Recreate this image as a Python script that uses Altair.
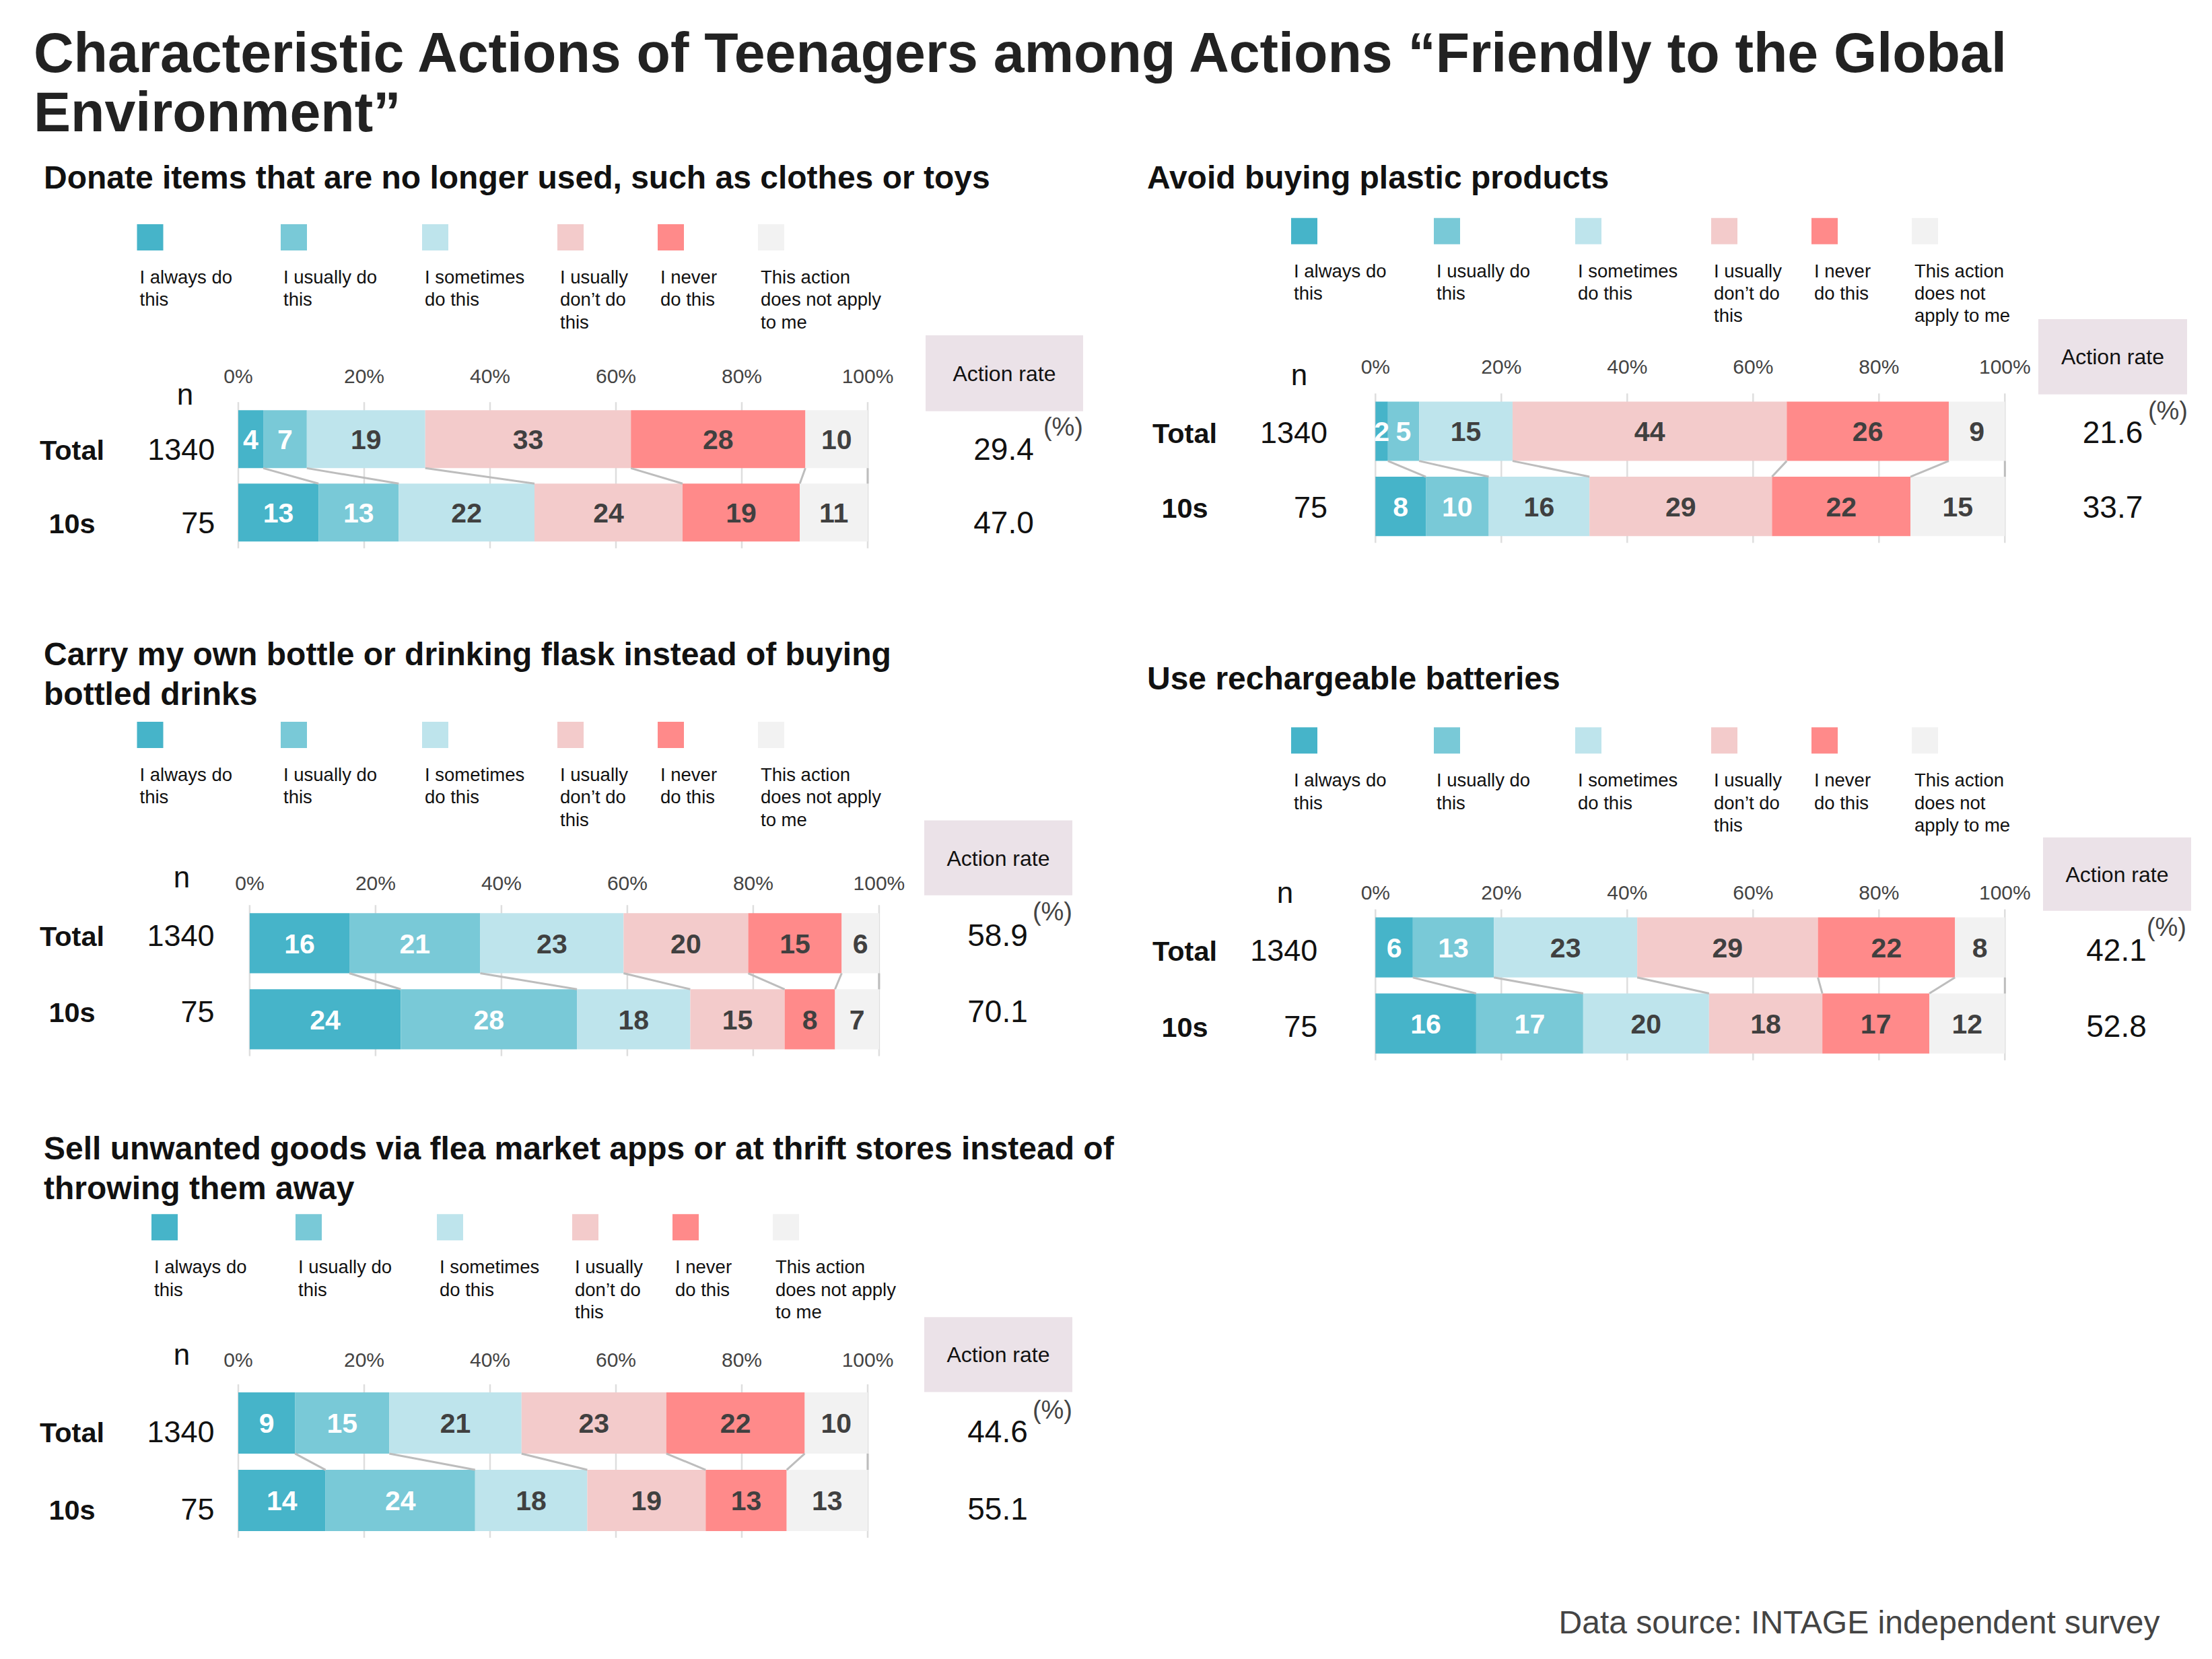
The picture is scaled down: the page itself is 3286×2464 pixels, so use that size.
import altair as alt
import pandas as pd

FONT = "Liberation Sans"

# ---------------- data ----------------
main_title = ["Characteristic Actions of Teenagers among Actions \u201cFriendly to the Global",
              "Environment\u201d"]
source_text = "Data source: INTAGE independent survey"

categories = ["I always do this", "I usually do this", "I sometimes do this",
              "I usually don\u2019t do this", "I never do this", "This action does not apply to me"]
colors = ["#46b4c9", "#79c9d7", "#bee4ec", "#f3cbcb", "#ff8a8a", "#f2f2f2"]

legend_lines_a = [["I always do", "this"], ["I usually do", "this"], ["I sometimes", "do this"],
                  ["I usually", "don\u2019t do", "this"], ["I never", "do this"],
                  ["This action", "does not apply", "to me"]]
legend_lines_b = [["I always do", "this"], ["I usually do", "this"], ["I sometimes", "do this"],
                  ["I usually", "don\u2019t do", "this"], ["I never", "do this"],
                  ["This action", "does not", "apply to me"]]

row_labels = ["Total", "10s"]
n_values = [1340, 75]
tick_values = [0, 20, 40, 60, 80, 100]
tick_labels = ["0%", "20%", "40%", "60%", "80%", "100%"]

panel_titles = [
    ["Donate items that are no longer used, such as clothes or toys"],
    ["Avoid buying plastic products"],
    ["Carry my own bottle or drinking flask instead of buying", "bottled drinks"],
    ["Use rechargeable batteries"],
    ["Sell unwanted goods via flea market apps or at thrift stores instead of", "throwing them away"],
]
total_values = [
    [4, 7, 19, 33, 28, 10],
    [2, 5, 15, 44, 26, 9],
    [16, 21, 23, 20, 15, 6],
    [6, 13, 23, 29, 22, 8],
    [9, 15, 21, 23, 22, 10],
]
teen_values = [
    [13, 13, 22, 24, 19, 11],
    [8, 10, 16, 29, 22, 15],
    [24, 28, 18, 15, 8, 7],
    [16, 17, 20, 18, 17, 12],
    [14, 24, 18, 19, 13, 13],
]
rate_total = [29.4, 21.6, 58.9, 42.1, 44.6]
rate_teen = [47.0, 33.7, 70.1, 52.8, 55.1]

# ---------------- layout (page pixels) ----------------
K = 9.35  # px per percent
LEFT_COL = (50, 1620)
RIGHT_COL = (1700, 3260)
SQ = 39

layouts = [
    dict(col=LEFT_COL, top=230, bottom=940, x0=354, yc=651.3, step=109, title_x=65, title_y=279.3,
         sq_top=332, sq_left=[203.5, 417, 627, 828, 977, 1126], legend=legend_lines_a,
         axis_y=568.3, n_x=275, n_y=600, box=(1375, 1609, 497, 609.7), lab_x=107, lab_dy=31,
         n_right=319.3, rate_x=1491, pct_right=1609, pct_y=646),
    dict(col=RIGHT_COL, top=230, bottom=940, x0=2043.3, yc=639.5, step=111.7, title_x=1704, title_y=279.3,
         sq_top=322.7, sq_left=[1918, 2130, 2340, 2542, 2691, 2840], legend=legend_lines_b,
         axis_y=554, n_x=1930, n_y=571, box=(3028, 3249, 473, 584.7), lab_x=1760, lab_dy=17,
         n_right=1972, rate_x=3138.5, pct_right=3250, pct_y=622),
    dict(col=LEFT_COL, top=940, bottom=1675, x0=370.9, yc=1399.9, step=113, title_x=65, title_y=987,
         sq_top=1071, sq_left=[203.5, 417, 627, 828, 977, 1126], legend=legend_lines_a,
         axis_y=1320.5, n_x=270, n_y=1317, box=(1373, 1593, 1217.6, 1328.7), lab_x=107, lab_dy=4,
         n_right=318.5, rate_x=1482, pct_right=1593, pct_y=1366),
    dict(col=RIGHT_COL, top=940, bottom=1675, x0=2043.3, yc=1406.2, step=113, title_x=1704, title_y=1023,
         sq_top=1079.3, sq_left=[1918, 2130, 2340, 2542, 2691, 2840], legend=legend_lines_b,
         axis_y=1335, n_x=1909, n_y=1340, box=(3035, 3255, 1242.8, 1351.7), lab_x=1760, lab_dy=20,
         n_right=1957.4, rate_x=3144, pct_right=3248, pct_y=1389),
    dict(col=LEFT_COL, top=1675, bottom=2330, x0=354, yc=2112.5, step=115, title_x=65, title_y=1721,
         sq_top=1802.3, sq_left=[225, 439, 649, 850, 999, 1148], legend=legend_lines_a,
         axis_y=2029, n_x=270, n_y=2025.5, box=(1373, 1593, 1955.3, 2066.4), lab_x=107, lab_dy=28,
         n_right=318.5, rate_x=1482, pct_right=1593, pct_y=2106),
]


def make_panel(i):
    L = layouts[i]
    x0, yc, S = L["x0"], L["yc"], L["step"]
    left, right = L["col"]

    def xd(px):
        return (px - x0) / K

    def yd(py):
        return (py - yc) / S

    W = right - left
    H = L["bottom"] - L["top"]
    xs = alt.Scale(domain=[xd(left), xd(right)], nice=False, zero=False)
    ys = alt.Scale(domain=[yd(L["top"]), yd(L["bottom"])], nice=False, zero=False, reverse=True)

    def X(f):
        return alt.X(f, type="quantitative", scale=xs, axis=None)

    def Y(f):
        return alt.Y(f, type="quantitative", scale=ys, axis=None)

    h = 0.395  # half bar height in rows
    color_scale = alt.Scale(domain=categories, range=colors)

    # bars
    seg = []
    ends = []
    for r, vals in enumerate([total_values[i], teen_values[i]]):
        s = float(sum(vals))
        c = 0.0
        row_end = []
        for j, v in enumerate(vals):
            a = c / s * 100
            c += v
            b = c / s * 100
            row_end.append(b)
            seg.append(dict(cat=categories[j], x=a, x2=b, xm=(a + b) / 2, y=r - h, y2=r + h,
                            ty=r + 14.8 / S, label=str(v),
                            tcol="#ffffff" if j < 2 else "#404040"))
        ends.append(row_end)
    seg_df = pd.DataFrame(seg)

    bars = alt.Chart(seg_df).mark_rect(strokeWidth=0).encode(
        x=X("x"), x2="x2", y=Y("y"), y2="y2",
        color=alt.Color("cat:N", scale=color_scale, legend=None))
    bar_text = alt.Chart(seg_df).mark_text(font=FONT, fontSize=41, fontWeight="bold",
                                           baseline="alphabetic", align="center").encode(
        x=X("xm"), y=Y("ty"), text="label:N", color=alt.Color("tcol:N", scale=None))

    # grid
    grid_df = pd.DataFrame({"x": tick_values, "y": [-h - 12 / S] * 6, "y2": [1 + h + 10 / S] * 6})
    grid = alt.Chart(grid_df).mark_rule(color="#dedede", strokeWidth=2.5).encode(
        x=X("x"), y=Y("y"), y2="y2")

    # connectors
    con_df = pd.DataFrame({"x": ends[0], "x2": ends[1], "y": [h] * 6, "y2": [1 - h] * 6})
    conn = alt.Chart(con_df).mark_rule(color="#bdbdbd", strokeWidth=3).encode(
        x=X("x"), x2="x2", y=Y("y"), y2="y2")

    # axis labels
    ax_df = pd.DataFrame({"x": tick_values, "y": [yd(L["axis_y"])] * 6, "t": tick_labels})
    axis_text = alt.Chart(ax_df).mark_text(font=FONT, fontSize=30, color="#444444",
                                           baseline="alphabetic", align="center").encode(
        x=X("x"), y=Y("y"), text="t:N")

    # legend
    leg_df = pd.DataFrame({
        "cat": categories,
        "x": [xd(p) for p in L["sq_left"]],
        "x2": [xd(p + SQ) for p in L["sq_left"]],
        "y": [yd(L["sq_top"])] * 6,
        "y2": [yd(L["sq_top"] + SQ)] * 6,
        "lx": [xd(p + 4) for p in L["sq_left"]],
        "ly": [yd(L["sq_top"] + 88)] * 6,
        "t": ["\n".join(lines) for lines in L["legend"]],
    })
    leg_sq = alt.Chart(leg_df).mark_rect(strokeWidth=0).encode(
        x=X("x"), x2="x2", y=Y("y"), y2="y2",
        color=alt.Color("cat:N", scale=color_scale, legend=None))
    leg_txt = alt.Chart(leg_df).mark_text(font=FONT, fontSize=27.5, color="#111111", align="left",
                                          baseline="alphabetic", lineBreak="\n", lineHeight=33.3).encode(
        x=X("lx"), y=Y("ly"), text="t:N")

    # panel title
    t_df = pd.DataFrame({"x": [xd(L["title_x"])], "y": [yd(L["title_y"])],
                         "t": ["\n".join(panel_titles[i])]})
    title = alt.Chart(t_df).mark_text(font=FONT, fontSize=48, fontWeight="bold", color="#111111",
                                      align="left", baseline="alphabetic", lineBreak="\n",
                                      lineHeight=58.7).encode(x=X("x"), y=Y("y"), text="t:N")

    # n header + row labels + n values
    nh_df = pd.DataFrame({"x": [xd(L["n_x"])], "y": [yd(L["n_y"])], "t": ["n"]})
    n_head = alt.Chart(nh_df).mark_text(font=FONT, fontSize=44, color="#111111", align="center",
                                        baseline="alphabetic").encode(x=X("x"), y=Y("y"), text="t:N")
    rl_df = pd.DataFrame({
        "x": [xd(L["lab_x"])] * 2,
        "nx": [xd(L["n_right"])] * 2,
        "rx": [xd(L["rate_x"])] * 2,
        "y": [r + L["lab_dy"] / S for r in range(2)],
        "lab": row_labels,
        "n": [str(v) for v in n_values],
        "rate": ["%.1f" % rate_total[i], "%.1f" % rate_teen[i]],
    })
    row_lab = alt.Chart(rl_df).mark_text(font=FONT, fontSize=41.5, fontWeight="bold", color="#111111",
                                         align="center", baseline="alphabetic").encode(
        x=X("x"), y=Y("y"), text="lab:N")
    n_txt = alt.Chart(rl_df).mark_text(font=FONT, fontSize=45, color="#111111", align="right",
                                       baseline="alphabetic").encode(x=X("nx"), y=Y("y"), text="n:N")
    rate_txt = alt.Chart(rl_df).mark_text(font=FONT, fontSize=46, color="#111111", align="center",
                                          baseline="alphabetic").encode(x=X("rx"), y=Y("y"), text="rate:N")

    # action-rate box
    bl, br, bt, bb = L["box"]
    box_df = pd.DataFrame({"x": [xd(bl)], "x2": [xd(br)], "y": [yd(bt)], "y2": [yd(bb)],
                           "tx": [xd((bl + br) / 2)], "ty": [yd((bt + bb) / 2 + 11.5)],
                           "t": ["Action rate"],
                           "px": [xd(L["pct_right"])], "py": [yd(L["pct_y"])], "p": ["(%)"]})
    box = alt.Chart(box_df).mark_rect(color="#ebe2e8", strokeWidth=0).encode(
        x=X("x"), x2="x2", y=Y("y"), y2="y2")
    box_txt = alt.Chart(box_df).mark_text(font=FONT, fontSize=32, color="#111111", align="center",
                                          baseline="alphabetic").encode(x=X("tx"), y=Y("ty"), text="t:N")
    pct_txt = alt.Chart(box_df).mark_text(font=FONT, fontSize=38, color="#444444", align="right",
                                          baseline="alphabetic").encode(x=X("px"), y=Y("py"), text="p:N")

    return alt.layer(grid, bars, conn, bar_text, axis_text, leg_sq, leg_txt, title, n_head,
                     row_lab, n_txt, box, box_txt, rate_txt, pct_txt).properties(width=W, height=H)


panels = [make_panel(i) for i in range(5)]

footer = alt.Chart(pd.DataFrame({"t": [source_text]})).mark_text(
    font=FONT, fontSize=48, color="#444444", align="right", baseline="alphabetic").encode(
    x=alt.value(3158.5), y=alt.value(95), text="t:N").properties(width=3210, height=120)

row1 = alt.hconcat(panels[0], panels[1], spacing=80)
row2 = alt.hconcat(panels[2], panels[3], spacing=80)

chart = alt.vconcat(
    row1, row2, panels[4], footer, spacing=0,
    title=alt.Title(text=main_title, anchor="start", fontSize=82.5, font=FONT, fontWeight="bold",
                    color="#222222", lineHeight=88, offset=19),
).properties(
    padding={"left": 42, "top": 32, "right": 10, "bottom": 0},
    background="white",
).configure_view(stroke=None)

chart.save("out.html", embed_options={"renderer": "svg", "actions": False})
